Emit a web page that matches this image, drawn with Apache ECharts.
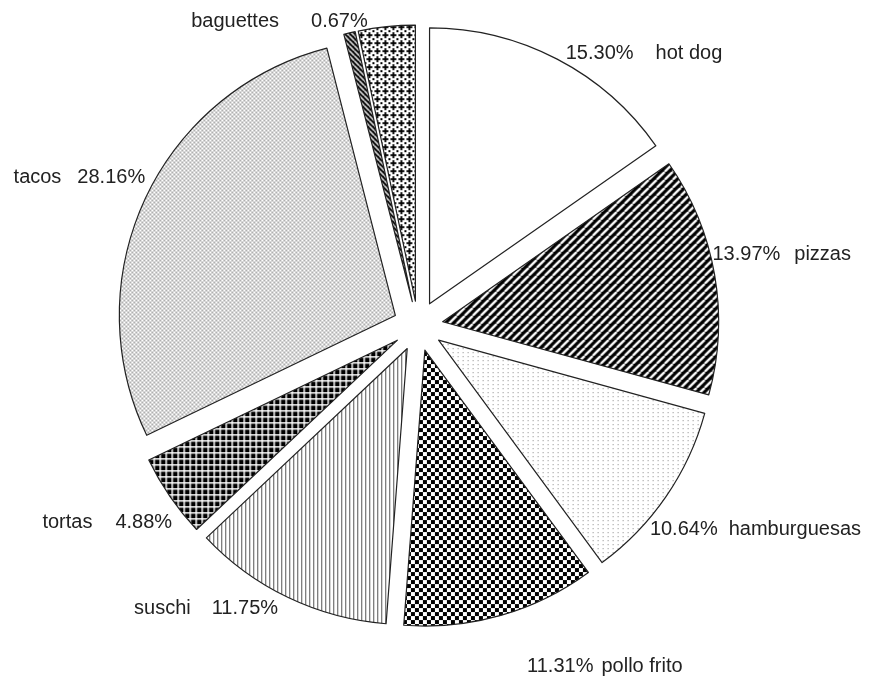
<!DOCTYPE html>
<html>
<head>
<meta charset="utf-8">
<script src="https://cdn.jsdelivr.net/npm/echarts@6/dist/echarts.min.js"></script>
<style>
html,body{margin:0;padding:0;background:#fff;}
#chart{width:876px;height:680px;}
</style>
</head>
<body>
<div id="chart"></div>
<script>
const categories = ['hot dog','pizzas','hamburguesas','pollo frito','suschi','tortas','tacos','baguettes',''];
const values = [15.30, 13.97, 10.64, 11.31, 11.75, 4.88, 28.16, 0.67, 3.32];
const showLabel = [true, true, true, true, true, true, true, true, false];
// label nudges and inner gaps (style only, pixels)
const labelNudge = [[-2, 5], [-19, -18], [-31, 26], [18, 40], [0, 0], [17, 19], [16, -16], [26, 0], [0, 0]];
const labelGap = [22, 14, 11, 8, 21, 23, 16, 32, 14];

function pattern(w, draw, h) {
  const c = document.createElement('canvas');
  c.width = w; c.height = h || w;
  const g = c.getContext('2d');
  draw(g, w, h || w);
  return { image: c, repeat: 'repeat' };
}
const patterns = [
  '#ffffff',
  pattern(8, (g, s) => { g.fillStyle = '#000'; g.fillRect(0, 0, s, s); g.strokeStyle = '#fff'; g.lineWidth = 2.4;
    for (let k = -1; k <= 1; k++) { g.beginPath(); g.moveTo(k * s, s); g.lineTo(k * s + s, 0); g.stroke(); } }),
  pattern(5, (g) => { g.fillStyle = '#fff'; g.fillRect(0, 0, 5, 4); g.fillStyle = '#888'; g.fillRect(2, 2, 1, 1); }, 4),
  pattern(8, (g, s) => { g.fillStyle = '#fff'; g.fillRect(0, 0, s, s); g.fillStyle = '#000'; g.fillRect(0, 0, 4, 4); g.fillRect(4, 4, 4, 4); }),
  pattern(4, (g) => { g.fillStyle = '#fff'; g.fillRect(0, 0, 4, 4); g.fillStyle = '#555'; g.fillRect(0, 0, 1, 4); }),
  pattern(6, (g, s) => { g.fillStyle = '#000'; g.fillRect(0, 0, s, s); g.fillStyle = '#fff'; g.fillRect(0, 0, s, 1.5); g.fillRect(0, 0, 1.5, s); }),
  pattern(4, (g, s) => { g.fillStyle = '#fff'; g.fillRect(0, 0, s, s); g.fillStyle = '#b0b0b0'; g.fillRect(0, 0, 2, 2); g.fillRect(2, 2, 2, 2); }),
  pattern(5, (g, s) => { g.fillStyle = '#000'; g.fillRect(0, 0, s, s); g.strokeStyle = '#fff'; g.lineWidth = 1.5;
    for (let k = -1; k <= 1; k++) { g.beginPath(); g.moveTo(k * s, 0); g.lineTo(k * s + s, s); g.stroke(); } }),
  pattern(8, (g, s) => { g.fillStyle = '#fff'; g.fillRect(0, 0, s, s); g.fillStyle = '#000';
    g.fillRect(3.1, 1, 1.8, 6); g.fillRect(1, 3.1, 6, 1.8); g.fillRect(0, 0, 1, 1); g.fillRect(7, 7, 1, 1); g.fillRect(0, 7, 1, 1); g.fillRect(7, 0, 1, 1); })
];

const total = values.reduce((a, b) => a + b, 0);
let cum = 0;
const rightSide = values.map(v => { const mid = (cum + v / 2) / total * 360; cum += v; return mid < 180; });

const FONT = 'Liberation Sans, Arial, sans-serif';
const data = categories.map((name, i) => {
  const style = { color: patterns[i], borderColor: '#222', borderWidth: 1.2 };
  return {
    name: name,
    value: values[i],
    selected: true,
    itemStyle: style,
    select: { itemStyle: style },
    label: {
      show: showLabel[i],
      rich: {
        g: { fontSize: 20, color: '#222', fontFamily: FONT, padding: [0, labelGap[i], 0, 0] },
        t: { fontSize: 20, color: '#222', fontFamily: FONT }
      }
    }
  };
});

const chart = echarts.init(document.getElementById('chart'), null, { renderer: 'canvas' });
chart.setOption({
  animation: false,
  backgroundColor: '#fff',
  series: [{
    type: 'pie',
    center: [418, 326],
    radius: 276,
    startAngle: 90,
    clockwise: true,
    selectedMode: 'multiple',
    selectedOffset: 25,
    avoidLabelOverlap: false,
    silent: true,
    emphasis: { disabled: true },
    label: {
      show: true,
      position: 'outside',
      color: '#222',
      fontFamily: FONT,
      fontSize: 20,
      formatter: function (p) {
        const pct = Number(p.value).toFixed(2) + '%';
        return rightSide[p.dataIndex] ? '{g|' + pct + '}{t|' + p.name + '}' : '{g|' + p.name + '}{t|' + pct + '}';
      }
    },
    labelLine: { show: false, length: 12, length2: 0 },
    labelLayout: function (params) {
      const n = labelNudge[params.dataIndex];
      return { dx: n[0], dy: n[1] };
    },
    data: data
  }]
});
</script>
</body>
</html>
